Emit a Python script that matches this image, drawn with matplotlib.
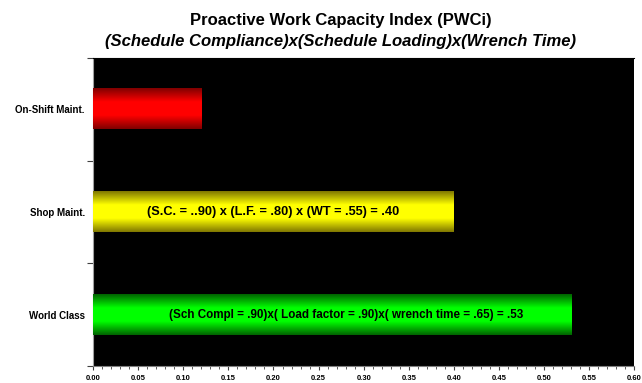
import matplotlib.pyplot as plt
import numpy as np
from matplotlib.colors import LinearSegmentedColormap
from matplotlib.ticker import MultipleLocator, FormatStrFormatter

# data
categories = ['World Class', 'Shop Maint.', 'On-Shift Maint.']
pwci = [0.53, 0.40, 0.12]
bright = ['#00ff00', '#ffff00', '#ff0000']
dark = ['#006400', '#807800', '#800000']
bar_notes = ['(Sch Compl = .90)x( Load factor = .90)x( wrench time = .65) = .53',
             '(S.C. = ..90) x (L.F. = .80) x (WT = .55) = .40',
             '']
note_x = [0.28, 0.20, 0.0]
note_size = [8.4, 9.2, 8.4]

plt.rcParams['font.family'] = ['Liberation Sans', 'DejaVu Sans']

fig = plt.figure(figsize=(6.42, 3.83), dpi=100)
ax = fig.add_axes([0.145, 0.044, 0.843, 0.805])
ax.set_facecolor('black')

ypos = np.arange(len(categories)) + 0.5
bars = ax.barh(ypos, pwci, height=0.39, color=bright, zorder=2)

# gradient fill for each bar: dark edge -> bright centre -> dark edge
grad = np.linspace(0, 1, 100).reshape(-1, 1)
for b, c_hi, c_lo in zip(bars, bright, dark):
    cmap = LinearSegmentedColormap.from_list('g', [c_lo, c_hi, c_hi, c_lo])
    x0, y0 = b.get_x(), b.get_y()
    ax.imshow(grad, cmap=cmap, aspect='auto', zorder=3,
              extent=[x0, x0 + b.get_width(), y0, y0 + b.get_height()])
    b.set_alpha(0)

for y, txt, xn, fs in zip(ypos, bar_notes, note_x, note_size):
    if txt:
        ax.text(xn, y, txt, ha='center', va='center', fontsize=fs,
                fontweight='bold', color='black', zorder=4)

ax.set_xlim(0, 0.60)
ax.set_ylim(0, 3)
ax.xaxis.set_major_locator(MultipleLocator(0.05))
ax.xaxis.set_minor_locator(MultipleLocator(0.01))
ax.xaxis.set_major_formatter(FormatStrFormatter('%.2f'))
ax.tick_params(axis='x', which='major', labelsize=5.5, length=3, color='#404040')
ax.tick_params(axis='x', which='minor', length=2, color='#404040')
for lbl in ax.get_xticklabels():
    lbl.set_fontweight('bold')

ax.set_yticks([0, 1, 2, 3])
ax.set_yticklabels([])
ax.set_yticks(ypos, minor=True)
ax.set_yticklabels(categories, minor=True, fontsize=7, fontweight='bold')
ax.tick_params(axis='y', which='major', length=4, color='#404040')
ax.tick_params(axis='y', which='minor', length=0, pad=6)

ax.spines['left'].set_color('#a0a0a0')
ax.spines['bottom'].set_color('#808080')
ax.spines['top'].set_color('black')
ax.spines['right'].set_visible(False)

fig.text(0.531, 0.935, 'Proactive Work Capacity Index (PWCi)', ha='center',
         fontsize=12, fontweight='bold')
fig.text(0.531, 0.88, '(Schedule Compliance)x(Schedule Loading)x(Wrench Time)',
         ha='center', fontsize=12, fontweight='bold', style='italic')

fig.savefig('out.png', dpi=100)
